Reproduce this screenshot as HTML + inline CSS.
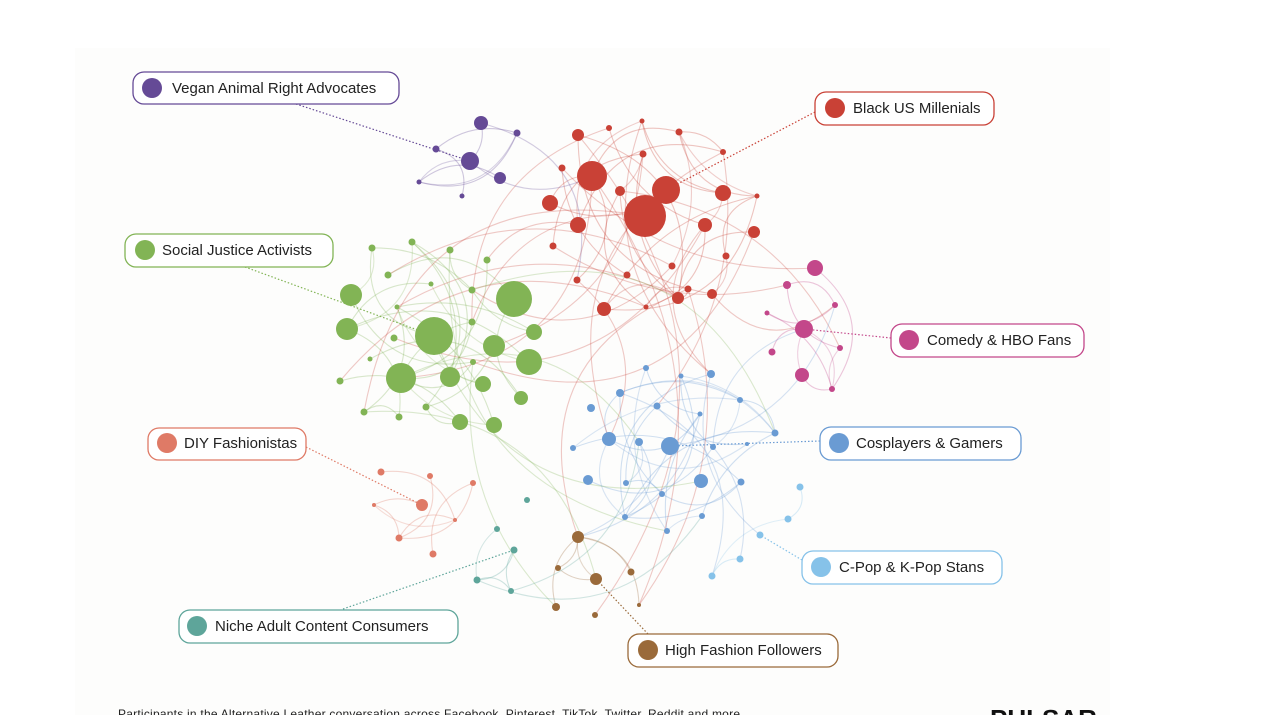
<!DOCTYPE html>
<html><head><meta charset="utf-8"><style>
html,body{margin:0;padding:0;background:#fff;width:1272px;height:715px;overflow:hidden}
svg{display:block}
text{font-family:"Liberation Sans",sans-serif}
</style></head><body>
<svg id="s" width="1272" height="715" viewBox="0 0 1272 715" xmlns="http://www.w3.org/2000/svg">
<rect x="75" y="48" width="1035" height="667" fill="#fdfdfc"/>
<g id="edges" fill="none" stroke-width="1.1"></g>
<g id="leaders" fill="none" stroke-width="1.2" stroke-dasharray="1.5 2">
<line x1="296" y1="104" x2="470" y2="161" stroke="#654a96"/>
<line x1="815" y1="112" x2="666" y2="190" stroke="#c94136"/>
<line x1="245" y1="267" x2="434" y2="336" stroke="#82b455"/>
<line x1="891" y1="338" x2="804" y2="329" stroke="#c3478a"/>
<line x1="306" y1="447" x2="422" y2="505" stroke="#df7a66"/>
<line x1="820" y1="441" x2="670" y2="446" stroke="#6a9bd3"/>
<line x1="802" y1="560" x2="760" y2="535" stroke="#86c2e9"/>
<line x1="343" y1="609" x2="514" y2="550" stroke="#5ea59a"/>
<line x1="648" y1="634" x2="596" y2="579" stroke="#9a6a3a"/>
</g>
<g id="nodes"></g>
<g font-size="15" fill="#222">
<rect x="133" y="72" width="266" height="32" rx="11" fill="#fff" stroke="#654a96" stroke-width="1.3"/><circle cx="152" cy="88" r="10" fill="#654a96"/><text x="172" y="93">Vegan Animal Right Advocates</text>
<rect x="815" y="92" width="179" height="33" rx="11" fill="#fff" stroke="#c94136" stroke-width="1.3"/><circle cx="835" cy="108" r="10" fill="#c94136"/><text x="853" y="113">Black US Millenials</text>
<rect x="125" y="234" width="208" height="33" rx="11" fill="#fff" stroke="#82b455" stroke-width="1.3"/><circle cx="145" cy="250" r="10" fill="#82b455"/><text x="162" y="255">Social Justice Activists</text>
<rect x="891" y="324" width="193" height="33" rx="11" fill="#fff" stroke="#c3478a" stroke-width="1.3"/><circle cx="909" cy="340" r="10" fill="#c3478a"/><text x="927" y="345">Comedy &amp; HBO Fans</text>
<rect x="148" y="428" width="158" height="32" rx="11" fill="#fff" stroke="#df7a66" stroke-width="1.3"/><circle cx="167" cy="443" r="10" fill="#df7a66"/><text x="184" y="448">DIY Fashionistas</text>
<rect x="820" y="427" width="201" height="33" rx="11" fill="#fff" stroke="#6a9bd3" stroke-width="1.3"/><circle cx="839" cy="443" r="10" fill="#6a9bd3"/><text x="856" y="448">Cosplayers &amp; Gamers</text>
<rect x="802" y="551" width="200" height="33" rx="11" fill="#fff" stroke="#86c2e9" stroke-width="1.3"/><circle cx="821" cy="567" r="10" fill="#86c2e9"/><text x="839" y="572">C-Pop &amp; K-Pop Stans</text>
<rect x="179" y="610" width="279" height="33" rx="11" fill="#fff" stroke="#5ea59a" stroke-width="1.3"/><circle cx="197" cy="626" r="10" fill="#5ea59a"/><text x="215" y="631">Niche Adult Content Consumers</text>
<rect x="628" y="634" width="210" height="33" rx="11" fill="#fff" stroke="#9a6a3a" stroke-width="1.3"/><circle cx="648" cy="650" r="10" fill="#9a6a3a"/><text x="665" y="655">High Fashion Followers</text>
</g>
<text x="118" y="718" font-size="12" fill="#222" textLength="622">Participants in the Alternative Leather conversation across Facebook, Pinterest, TikTok, Twitter, Reddit and more</text>
<text x="990" y="728" font-size="26" font-weight="bold" fill="#111">PULSAR</text>
</svg>
<script>
var C={p:"#654a96",r:"#c94136",g:"#82b455",k:"#c3478a",b:"#6a9bd3",l:"#86c2e9",s:"#df7a66",t:"#5ea59a",o:"#9a6a3a"};
var N={
p:[[481,123,7],[470,161,9],[500,178,6],[517,133,3.5],[436,149,3.5],[419,182,2.5],[462,196,2.5]],
r:[[645,216,21],[592,176,15],[666,190,14],[578,135,6],[550,203,8],[578,225,8],[620,191,5],[562,168,3.5],[609,128,3],[642,121,2.5],[679,132,3.5],[723,152,3],[723,193,8],[757,196,2.5],[705,225,7],[754,232,6],[643,154,3.5],[553,246,3.5],[672,266,3.5],[726,256,3.5],[688,289,3.5],[627,275,3.5],[577,280,3.5],[604,309,7],[678,298,6],[712,294,5],[646,307,2.5]],
g:[[434,336,19],[514,299,18],[401,378,15],[351,295,11],[347,329,11],[494,346,11],[529,362,13],[450,377,10],[483,384,8],[534,332,8],[521,398,7],[460,422,8],[494,425,8],[372,248,3.5],[412,242,3.5],[450,250,3.5],[388,275,3.5],[431,284,2.5],[487,260,3.5],[472,290,3.5],[397,307,2.5],[472,322,3.5],[394,338,3.5],[370,359,2.5],[340,381,3.5],[364,412,3.5],[399,417,3.5],[426,407,3.5],[473,362,3]],
k:[[815,268,8],[804,329,9],[802,375,7],[787,285,4],[835,305,3],[840,348,3],[772,352,3.5],[767,313,2.5],[832,389,3]],
b:[[670,446,9],[609,439,7],[701,481,7],[588,480,5],[620,393,4],[591,408,4],[639,442,4],[657,406,3.5],[646,368,3],[711,374,4],[740,400,3],[700,414,2.5],[713,447,3],[747,444,2],[775,433,3.5],[626,483,3],[662,494,3],[741,482,3.5],[625,517,3],[667,531,3],[702,516,3],[573,448,3],[681,376,2.5]],
l:[[800,487,3.5],[788,519,3.5],[760,535,3.5],[740,559,3.5],[712,576,3.5]],
s:[[422,505,6],[381,472,3.5],[430,476,3],[473,483,3],[374,505,2],[455,520,2],[399,538,3.5],[433,554,3.5]],
t:[[527,500,3],[497,529,3],[514,550,3.5],[477,580,3.5],[511,591,3]],
o:[[578,537,6],[596,579,6],[558,568,3],[631,572,3.5],[556,607,4],[595,615,3],[639,605,2]]};
var seed=7;function rnd(){seed=(seed*16807)%2147483647;return seed/2147483647;}
var E=document.getElementById("edges"),ns="http://www.w3.org/2000/svg";
function edge(a,b,col,op){var mx=(a[0]+b[0])/2,my=(a[1]+b[1])/2,dx=b[0]-a[0],dy=b[1]-a[1],k=(rnd()<0.5?-1:1)*(0.2+rnd()*0.3);
var p=document.createElementNS(ns,"path");p.setAttribute("d","M"+a[0]+","+a[1]+" Q"+(mx-dy*k)+","+(my+dx*k)+" "+b[0]+","+b[1]);
p.setAttribute("stroke",col);p.setAttribute("stroke-opacity",op);E.appendChild(p);}
var keys=Object.keys(N);
keys.forEach(function(c){var L=N[c];for(var i=1;i<L.length;i++){edge(L[i],L[Math.floor(rnd()*L.length)],C[c],0.3);if(rnd()<0.25)edge(L[i],L[Math.floor(rnd()*L.length)],C[c],0.25);}});
var cross=[["r","g",12],["r","b",5],["r","k",4],["r","o",4],["g","b",4],["g","o",2],["b","l",3],["b","k",2],["p","r",2],["t","b",2],["b","o",2]];
cross.forEach(function(x){for(var i=0;i<x[2];i++){var A=N[x[0]],B=N[x[1]];edge(A[Math.floor(rnd()*A.length)],B[Math.floor(rnd()*B.length)],C[x[0]],0.28);}});
var G=document.getElementById("nodes");
keys.forEach(function(c){N[c].forEach(function(n){var e=document.createElementNS(ns,"circle");e.setAttribute("cx",n[0]);e.setAttribute("cy",n[1]);e.setAttribute("r",n[2]);e.setAttribute("fill",C[c]);G.appendChild(e);});});
</script>
</body></html>
